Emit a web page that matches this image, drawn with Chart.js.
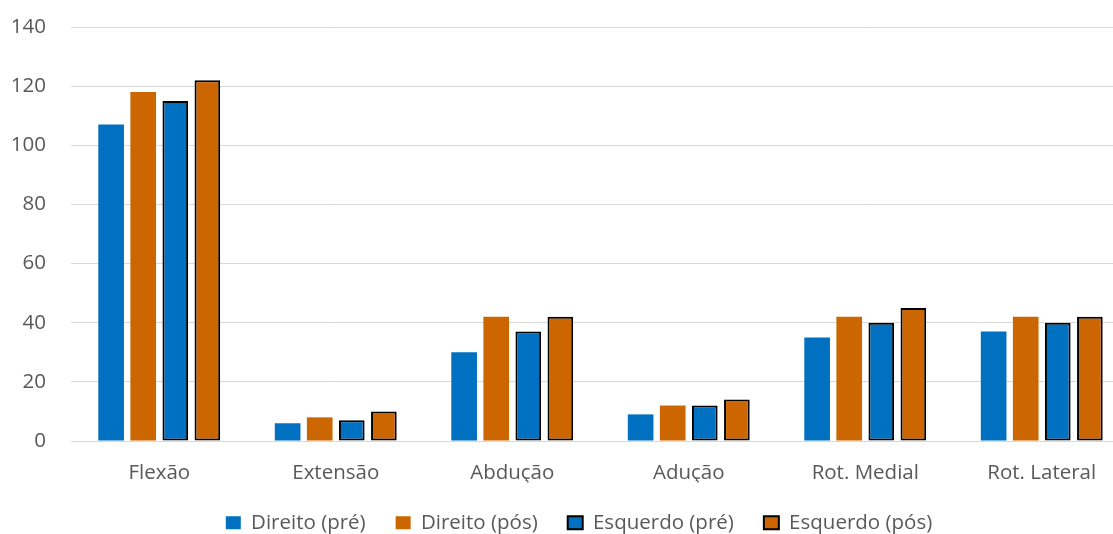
<!DOCTYPE html>
<html>
<head>
<meta charset="utf-8">
<script src="https://cdn.jsdelivr.net/npm/chart.js@4"></script>
<style>
  html, body { margin: 0; padding: 0; background: #ffffff; overflow: hidden; }
  #wrap { width: 1130px; height: 545px; }
</style>
</head>
<body>
<div id="wrap"><canvas id="c" width="1130" height="545"></canvas></div>
<script>
// Movement categories and range-of-motion values (degrees)
const categories = ['Flexão', 'Extensão', 'Abdução', 'Adução', 'Rot. Medial', 'Rot. Lateral'];
const direitoPre = [107, 6, 30, 9, 35, 37];
const direitoPos = [118, 8, 42, 12, 42, 42];
const esquerdoPre = [115, 7, 37, 12, 40, 40];
const esquerdoPos = [122, 10, 42, 14, 45, 42];
const yTicks = [0, 20, 40, 60, 80, 100, 120, 140];

const BLUE = '#0070C0';
const ORANGE = '#CC6600';
const TEXT = '#595959';
const FONT = "'Open Sans', 'Liberation Sans', sans-serif";
const FONT_SIZE = 20.5;
const LEGEND_SHIFT = 14;

Chart.defaults.font.family = FONT;
Chart.defaults.color = TEXT;

function series(label, data, color, outlined) {
  return {
    label: label,
    data: data,
    backgroundColor: color,
    borderColor: outlined ? '#000000' : color,
    borderWidth: outlined ? 2 : 0,
    borderSkipped: false,
    categoryPercentage: 0.727,
    barPercentage: 0.8
  };
}

// Nudges the legend row sideways after layout, leaving the plot area untouched
const legendOffset = {
  id: 'legendOffset',
  afterLayout: function (chart) {
    if (chart.legend) {
      chart.legend.left += LEGEND_SHIFT;
      chart.legend.right += LEGEND_SHIFT;
    }
  }
};

new Chart(document.getElementById('c'), {
  type: 'bar',
  data: {
    labels: categories,
    datasets: [
      series('Direito (pré)', direitoPre, BLUE, false),
      series('Direito (pós)', direitoPos, ORANGE, false),
      series('Esquerdo (pré)', esquerdoPre, BLUE, true),
      series('Esquerdo (pós)', esquerdoPos, ORANGE, true)
    ]
  },
  plugins: [legendOffset],
  options: {
    responsive: false,
    animation: false,
    layout: { padding: { top: 27, right: 0, bottom: 2, left: 0 } },
    plugins: {
      tooltip: { enabled: false },
      legend: {
        position: 'bottom',
        labels: {
          boxWidth: 15,
          boxHeight: 13,
          padding: 30,
          font: { size: FONT_SIZE, family: FONT },
          color: TEXT,
          generateLabels: function (chart) {
            return chart.data.datasets.map(function (ds, i) {
              return {
                text: ds.label,
                fillStyle: ds.backgroundColor,
                strokeStyle: ds.borderWidth ? '#000000' : ds.backgroundColor,
                lineWidth: ds.borderWidth ? 2 : 0,
                fontColor: TEXT,
                datasetIndex: i
              };
            });
          }
        }
      }
    },
    scales: {
      x: {
        grid: { display: false, drawTicks: false },
        border: { display: false },
        ticks: { font: { size: FONT_SIZE, family: FONT }, color: TEXT, padding: 20 },
        afterFit: function (scale) { scale.height = 41.5; }
      },
      y: {
        min: 0,
        max: 140,
        afterBuildTicks: function (scale) {
          scale.ticks = yTicks.map(function (v) { return { value: v }; });
        },
        grid: { color: '#D9D9D9', lineWidth: 1, drawTicks: true, tickLength: 25, tickColor: 'rgba(0,0,0,0)' },
        border: { display: false },
        ticks: { font: { size: FONT_SIZE, family: FONT }, color: TEXT, padding: 0 },
        afterFit: function (scale) { scale.width = 71; }
      }
    }
  }
});
</script>
</body>
</html>
